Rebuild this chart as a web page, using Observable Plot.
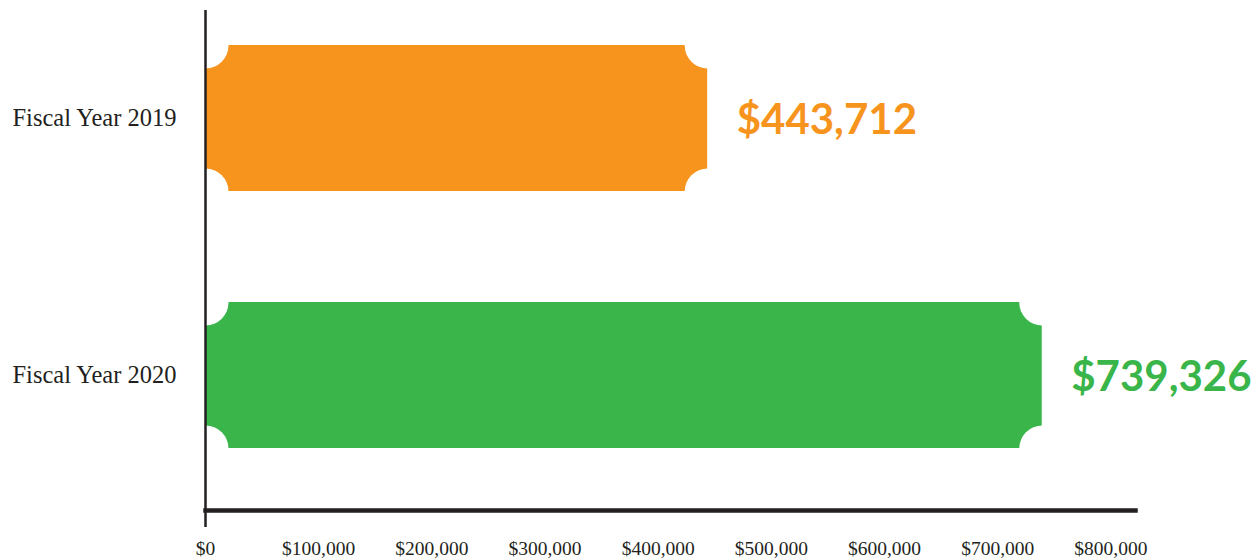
<!DOCTYPE html>
<html>
<head>
<meta charset="utf-8">
<script src="https://cdn.jsdelivr.net/npm/d3@7"></script>
<script src="https://cdn.jsdelivr.net/npm/@observablehq/plot@0.6"></script>
<style>
  html, body { margin: 0; padding: 0; background: #ffffff; }
  svg { display: block; }
</style>
</head>
<body>
<div id="chart"></div>
<script>
const categories = ["Fiscal Year 2019", "Fiscal Year 2020"];
const values = [443712, 739326];
const colors = ["#F7941D", "#39B54A"];
const valueLabels = ["$443,712", "$739,326"];
const tickValues = [0, 100000, 200000, 300000, 400000, 500000, 600000, 700000, 800000];

const data = categories.map((c, i) => ({category: c, value: values[i], color: colors[i], label: valueLabels[i]}));
const corners = [];
for (const d of data) {
  for (const x of [0, d.value]) {
    for (const side of [-1, 1]) corners.push({category: d.category, x, side});
  }
}

const W = 1257, H = 558;
const yScale = {
  domain: categories,
  paddingInner: 0.43,
  paddingOuter: 0.186,
  align: 0.366
};
const layout = {
  width: W, height: H,
  marginLeft: 205, marginRight: 120, marginTop: 10, marginBottom: 48,
  x: {domain: [0, 823500]},
  y: yScale
};

// probe to get bandwidth for notches
const probe = Plot.plot({...layout, marks: [Plot.barX(data, {x: "value", y: "category"})]});
const bw = probe.scale("y").bandwidth;
const notchR = 23;

const ink = "#231f20";
const chart = Plot.plot({
  ...layout,
  style: {fontFamily: "Liberation Serif", color: ink, background: "#fff"},
  marks: [
    Plot.barX(data, {x: "value", y: "category", fill: "color"}),
    Plot.dot(corners.filter(d => d.side < 0), {x: "x", y: "category", r: notchR, fill: "#fff", dy: -bw / 2}),
    Plot.dot(corners.filter(d => d.side > 0), {x: "x", y: "category", r: notchR, fill: "#fff", dy: bw / 2}),
    Plot.text(data, {x: "value", y: "category", text: "label", fill: "color", textAnchor: "start", dx: 29, dy: 2,
      fontFamily: "Lato", fontWeight: 700, fontSize: 42}),
    Plot.ruleX([0], {stroke: ink, strokeWidth: 2.5, insetBottom: -17}),
    Plot.frame({anchor: "bottom", stroke: ink, strokeWidth: 4.5, insetRight: 2}),
    Plot.axisY({tickSize: 0, tickPadding: 29, fontSize: 24.5, label: null, fill: ink}),
    Plot.axisX({ticks: tickValues, tickFormat: d3.format("$,"), tickSize: 0, tickPadding: 31, fontSize: 19.5, label: null, fill: ink})
  ]
});
chart.style.fontFamily = "Liberation Serif";
document.getElementById("chart").appendChild(chart);
</script>
</body>
</html>
